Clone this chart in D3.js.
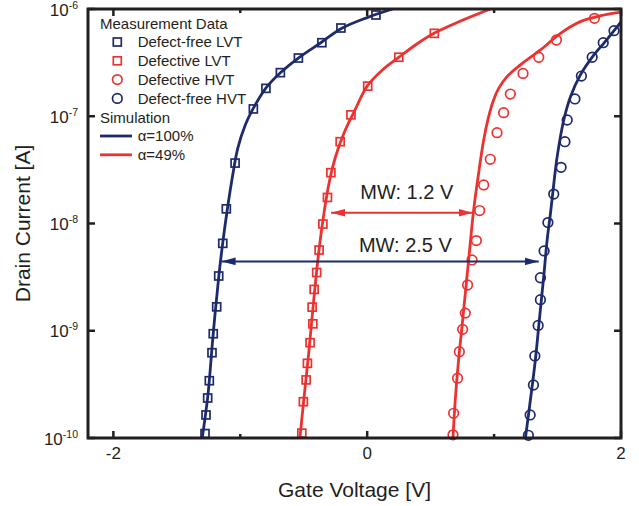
<!DOCTYPE html>
<html lang="en">
<head>
  <meta charset="UTF-8">
  <title>Drain Current vs Gate Voltage</title>
  <script src="https://d3js.org/d3.v7.min.js"></script>
  <style>
    body { background: #fff; margin: 0; }
    svg { display: block; font-family: "Liberation Sans", Arial, sans-serif; }
    .tick-label { font-size: 17px; fill: #231f20; }
    .axis-title { font-size: 21px; fill: #231f20; }
    .legend-text { font-size: 15px; fill: #231f20; }
    .mw { font-size: 20px; fill: #231f20; }
  </style>
</head>
<body>
  <svg width="639" height="506"></svg>

  <script>
    // --- data: [gate voltage V, drain current A] ---
    const xTicks = [-2, 0, 2];
    const xMinorTicks = [-1, 1];
    const yTicks = [1e-10, 1e-9, 1e-8, 1e-7, 1e-6];
    const yTickExp = ["-10", "-9", "-8", "-7", "-6"];

    const freeLVT = [
      [-1.278, 1.10e-10], [-1.270, 1.64e-10], [-1.257, 2.36e-10], [-1.244, 3.42e-10],
      [-1.223, 6.24e-10], [-1.213, 9.38e-10], [-1.186, 1.67e-9], [-1.170, 3.24e-9],
      [-1.138, 6.53e-9], [-1.110, 1.37e-8], [-1.041, 3.66e-8], [-0.897, 1.17e-7],
      [-0.798, 1.82e-7], [-0.684, 2.55e-7], [-0.542, 3.49e-7], [-0.357, 4.85e-7],
      [-0.207, 6.65e-7], [0.069, 8.79e-7]
    ];
    const defLVT = [
      [-0.515, 1.11e-10], [-0.503, 2.18e-10], [-0.481, 3.48e-10], [-0.471, 4.97e-10],
      [-0.450, 7.74e-10], [-0.428, 1.16e-9], [-0.434, 1.66e-9], [-0.418, 2.43e-9],
      [-0.398, 3.49e-9], [-0.379, 5.66e-9], [-0.349, 9.89e-9], [-0.313, 1.75e-8],
      [-0.286, 2.98e-8], [-0.213, 5.79e-8], [-0.128, 1.03e-7], [0.004, 1.91e-7],
      [0.249, 3.55e-7], [0.529, 5.93e-7]
    ];
    const defHVT = [
      [0.676, 1.07e-10], [0.681, 1.70e-10], [0.712, 3.61e-10], [0.726, 6.38e-10],
      [0.752, 1.03e-9], [0.773, 1.46e-9], [0.791, 2.67e-9], [0.826, 4.57e-9],
      [0.860, 6.93e-9], [0.886, 1.32e-8], [0.918, 2.29e-8], [0.970, 3.97e-8],
      [1.023, 7.03e-8], [1.075, 1.08e-7], [1.128, 1.61e-7], [1.228, 2.51e-7],
      [1.352, 3.55e-7], [1.491, 5.14e-7], [1.791, 8.18e-7]
    ];
    const freeHVT = [
      [1.270, 1.06e-10], [1.284, 1.64e-10], [1.310, 3.12e-10], [1.321, 5.82e-10],
      [1.347, 1.12e-9], [1.365, 1.95e-9], [1.365, 3.12e-9], [1.394, 5.55e-9],
      [1.424, 1.02e-8], [1.470, 1.88e-8], [1.528, 3.34e-8], [1.558, 5.79e-8],
      [1.576, 9.23e-8], [1.637, 1.45e-7], [1.688, 2.37e-7], [1.773, 3.55e-7],
      [1.860, 4.85e-7], [1.945, 6.28e-7]
    ];

    // simulation curves
    const simFreeLVT = [
      [-1.30, 1.0e-10], [-1.255, 2.51e-10], [-1.215, 8.91e-10], [-1.17, 3.16e-9],
      [-1.135, 7.08e-9], [-1.10, 1.41e-8], [-1.06, 2.82e-8], [-1.02, 5.01e-8],
      [-0.96, 8.32e-8], [-0.90, 1.17e-7], [-0.80, 1.82e-7], [-0.68, 2.57e-7],
      [-0.54, 3.51e-7], [-0.36, 4.90e-7], [-0.20, 6.61e-7], [0.0, 8.32e-7], [0.20, 1.0e-6]
    ];
    const simDefLVT = [
      [-0.53, 1.0e-10], [-0.50, 2.24e-10], [-0.46, 6.31e-10], [-0.42, 2.0e-9],
      [-0.38, 5.62e-9], [-0.34, 1.26e-8], [-0.30, 2.40e-8], [-0.25, 4.17e-8],
      [-0.18, 7.08e-8], [-0.10, 1.12e-7], [0.0, 1.91e-7], [0.12, 2.70e-7],
      [0.25, 3.55e-7], [0.40, 4.79e-7], [0.53, 5.96e-7], [0.70, 7.41e-7], [0.97, 1.0e-6]
    ];
    const simDefHVT = [
      [0.676, 1.0e-10], [0.694, 2.26e-10], [0.720, 5.33e-10], [0.747, 1.09e-9],
      [0.781, 2.77e-9], [0.807, 5.66e-9], [0.839, 1.34e-8], [0.878, 2.94e-8],
      [0.918, 6.01e-8], [0.957, 9.91e-8], [0.996, 1.42e-7], [1.036, 1.82e-7],
      [1.102, 2.34e-7], [1.207, 3.01e-7], [1.365, 4.15e-7], [1.523, 5.93e-7],
      [1.680, 7.62e-7], [1.864, 8.79e-7], [2.0, 9.37e-7]
    ];
    const simFreeHVT = [
      [1.247, 1.0e-10], [1.286, 2.26e-10], [1.325, 5.33e-10], [1.359, 1.35e-9],
      [1.391, 3.19e-9], [1.418, 7.02e-9], [1.444, 1.24e-8], [1.462, 1.91e-8],
      [1.497, 4.20e-8], [1.549, 9.23e-8], [1.602, 1.52e-7], [1.680, 2.43e-7],
      [1.785, 3.72e-7], [1.864, 4.79e-7], [1.991, 7.36e-7], [2.0, 7.59e-7]
    ];

    // memory window arrows and their labels
    const mwArrows = [
      { v0: -0.285, v1: 0.830, i: 1.26e-8, color: "red" },
      { v0: -1.147, v1: 1.352, i: 4.43e-9, color: "navy" }
    ];
    const mwLabels = [
      { v: 0.312, i: 1.98e-8, text: "MW: 1.2 V" },
      { v: 0.301, i: 6.3e-9, text: "MW: 2.5 V" }
    ];

    const colors = { navy: "#1d2a6b", red: "#ec3230" };
    const ink = "#231f20";

    const svg = d3.select("svg");
    const pL = 88, pR = 621, pT = 9, pB = 438;

    const x = d3.scaleLinear().domain([-2.2, 2]).range([pL, pR]);
    const y = d3.scaleLog().domain([1e-10, 1e-6]).range([pB, pT]);

    const defs = svg.append("defs");
    defs.append("clipPath").attr("id", "plot")
      .append("rect")
      .attr("x", pL).attr("y", pT)
      .attr("width", pR - pL).attr("height", pB - pT);

    Object.entries(colors).forEach(([k, c]) => {
      defs.append("marker")
        .attr("id", "head-" + k)
        .attr("markerUnits", "userSpaceOnUse")
        .attr("viewBox", "0 -4 14 8")
        .attr("refX", 14).attr("refY", 0)
        .attr("markerWidth", 14).attr("markerHeight", 8)
        .attr("orient", "auto-start-reverse")
        .append("path")
        .attr("d", "M0,-3.8L14,0L0,3.8Z")
        .attr("fill", c);
    });

    // ticks (inward, on all four sides)
    const tickG = svg.append("g").attr("stroke", ink).attr("stroke-width", 2.5);
    xTicks.forEach(v => {
      tickG.append("line").attr("x1", x(v)).attr("x2", x(v)).attr("y1", pB).attr("y2", pB - 7);
      tickG.append("line").attr("x1", x(v)).attr("x2", x(v)).attr("y1", pT).attr("y2", pT + 7);
    });
    xMinorTicks.forEach(v => {
      tickG.append("line").attr("x1", x(v)).attr("x2", x(v)).attr("y1", pB).attr("y2", pB - 4);
      tickG.append("line").attr("x1", x(v)).attr("x2", x(v)).attr("y1", pT).attr("y2", pT + 4);
    });
    yTicks.forEach(v => {
      tickG.append("line").attr("x1", pL).attr("x2", pL + 7).attr("y1", y(v)).attr("y2", y(v));
      tickG.append("line").attr("x1", pR).attr("x2", pR - 7).attr("y1", y(v)).attr("y2", y(v));
    });

    // tick labels
    svg.selectAll(".xlab")
      .data(xTicks)
      .enter()
      .append("text")
      .attr("class", "tick-label")
      .attr("x", d => x(d))
      .attr("y", pB + 21)
      .attr("text-anchor", "middle")
      .text(d => d);

    yTicks.forEach((v, i) => {
      const t = svg.append("text")
        .attr("class", "tick-label")
        .attr("x", 78)
        .attr("y", y(v) + 6.5)
        .attr("text-anchor", "end");
      t.append("tspan").text("10");
      t.append("tspan").attr("dy", -7).style("font-size", "10.5px").text(yTickExp[i]);
    });

    // axis titles
    svg.append("text")
      .attr("class", "axis-title")
      .attr("x", (pL + pR) / 2)
      .attr("y", 497)
      .attr("text-anchor", "middle")
      .text("Gate Voltage [V]");

    svg.append("text")
      .attr("class", "axis-title")
      .attr("transform", `translate(30, ${(pT + pB) / 2}) rotate(-90)`)
      .attr("text-anchor", "middle")
      .text("Drain Current [A]");

    // simulation lines
    const line = d3.line()
      .x(d => x(d[0]))
      .y(d => y(d[1]))
      .curve(d3.curveCatmullRom.alpha(0.5));

    const plot = svg.append("g").attr("clip-path", "url(#plot)");
    [[simFreeLVT, colors.navy], [simDefLVT, colors.red], [simDefHVT, colors.red], [simFreeHVT, colors.navy]]
      .forEach(([data, c]) => {
        plot.append("path")
          .datum(data)
          .attr("fill", "none")
          .attr("stroke", c)
          .attr("stroke-width", 2.8)
          .attr("d", line);
      });

    // measurement markers
    function squares(data, c) {
      svg.append("g").selectAll("rect")
        .data(data)
        .enter()
        .append("rect")
        .attr("x", d => x(d[0]) - 4)
        .attr("y", d => y(d[1]) - 4)
        .attr("width", 8)
        .attr("height", 8)
        .attr("fill", "none")
        .attr("stroke", c)
        .attr("stroke-width", 1.7);
    }
    function circles(data, c) {
      svg.append("g").selectAll("circle")
        .data(data)
        .enter()
        .append("circle")
        .attr("cx", d => x(d[0]))
        .attr("cy", d => y(d[1]))
        .attr("r", 4.8)
        .attr("fill", "none")
        .attr("stroke", c)
        .attr("stroke-width", 1.7);
    }
    squares(freeLVT, colors.navy);
    squares(defLVT, colors.red);
    circles(defHVT, colors.red);
    circles(freeHVT, colors.navy);

    // memory window arrows + labels
    mwArrows.forEach(a => {
      svg.append("line")
        .attr("x1", x(a.v0)).attr("x2", x(a.v1))
        .attr("y1", y(a.i)).attr("y2", y(a.i))
        .attr("stroke", colors[a.color])
        .attr("stroke-width", 2)
        .attr("marker-start", `url(#head-${a.color})`)
        .attr("marker-end", `url(#head-${a.color})`);
    });
    svg.selectAll(".mw")
      .data(mwLabels)
      .enter()
      .append("text")
      .attr("class", "mw")
      .attr("x", d => x(d.v))
      .attr("y", d => y(d.i) + 7)
      .attr("text-anchor", "middle")
      .text(d => d.text);

    // frame
    svg.append("rect")
      .attr("x", pL).attr("y", pT)
      .attr("width", pR - pL).attr("height", pB - pT)
      .attr("fill", "none")
      .attr("stroke", ink)
      .attr("stroke-width", 3);

    // legend
    const rowY = i => 28.5 + i * 18.8;
    const lg = svg.append("g").attr("class", "legend-text");
    lg.append("text").attr("x", 100).attr("y", rowY(0)).text("Measurement Data");
    const items = [
      ["sq", colors.navy, "Defect-free LVT"],
      ["sq", colors.red, "Defective LVT"],
      ["ci", colors.red, "Defective HVT"],
      ["ci", colors.navy, "Defect-free HVT"]
    ];
    items.forEach(([kind, c, label], i) => {
      const cy = rowY(i + 1) - 5.3;
      if (kind === "sq") {
        lg.append("rect").attr("x", 113.3).attr("y", cy - 4).attr("width", 8).attr("height", 8)
          .attr("fill", "none").attr("stroke", c).attr("stroke-width", 1.7);
      } else {
        lg.append("circle").attr("cx", 117.3).attr("cy", cy).attr("r", 4.8)
          .attr("fill", "none").attr("stroke", c).attr("stroke-width", 1.7);
      }
      lg.append("text").attr("x", 137.7).attr("y", rowY(i + 1)).text(label);
    });
    lg.append("text").attr("x", 100).attr("y", rowY(5)).text("Simulation");
    [[colors.navy, "\u03b1=100%"], [colors.red, "\u03b1=49%"]].forEach(([c, label], i) => {
      const cy = rowY(6 + i) - 5.3;
      lg.append("line").attr("x1", 100).attr("x2", 132).attr("y1", cy).attr("y2", cy)
        .attr("stroke", c).attr("stroke-width", 2.8);
      lg.append("text").attr("x", 137.7).attr("y", rowY(6 + i)).text(label);
    });
  </script>
</body>
</html>
